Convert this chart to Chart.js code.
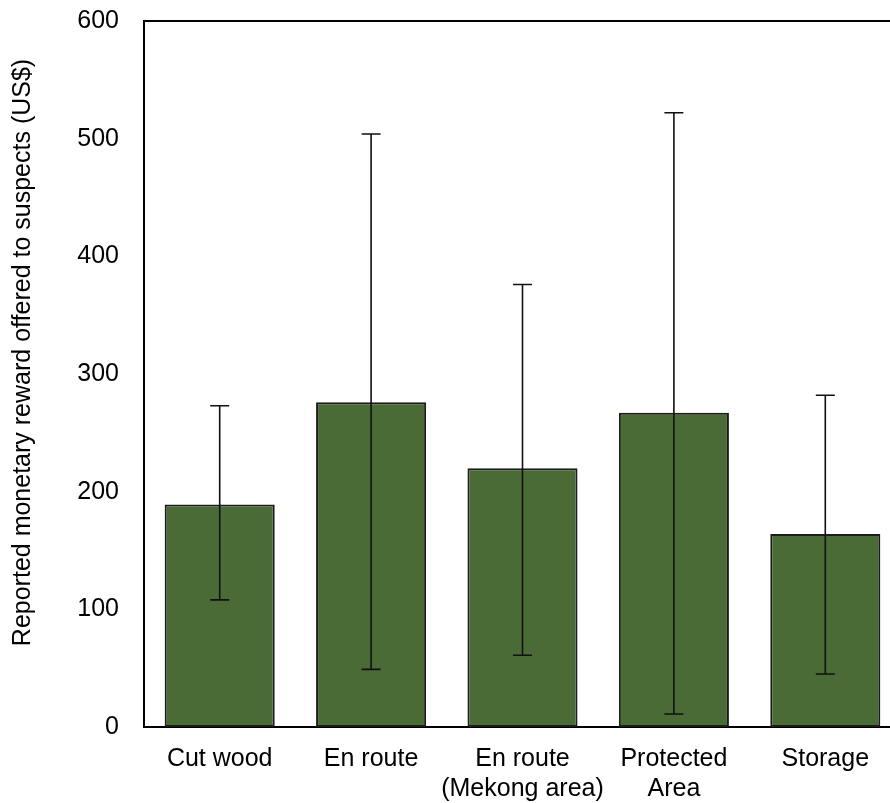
<!DOCTYPE html>
<html>
<head>
<meta charset="utf-8">
<script src="https://cdn.jsdelivr.net/npm/chart.js@4/dist/chart.umd.min.js"></script>
<style>
  html, body { margin: 0; padding: 0; background: #fff; overflow: hidden; }
  #wrap { width: 910px; height: 803px; }
</style>
</head>
<body>
<div id="wrap"><canvas id="c" width="910" height="803"></canvas></div>
<script>
const categories = [["Cut wood"], ["En route"], ["En route", "(Mekong area)"], ["Protected", "Area"], ["Storage"]];
const meanValues = [189, 276, 220, 267, 164];
const errLow = [108, 49, 61, 11, 45];
const errHigh = [273, 504, 376, 522, 282];
const yTicks = [0, 100, 200, 300, 400, 500, 600];
const yTitle = "Reported monetary reward offered to suspects (US$)";

const FONT = "'Liberation Sans', Arial, sans-serif";

const errorBars = {
  id: 'errorBars',
  afterDatasetsDraw(chart) {
    const ctx = chart.ctx;
    const y = chart.scales.y;
    ctx.save();
    ctx.strokeStyle = '#111';
    ctx.lineWidth = 1.6;
    for (let i = 0; i < meanValues.length; i++) {
      const px = chart.getDatasetMeta(0).data[i].x;
      const yl = y.getPixelForValue(errLow[i]);
      const yh = y.getPixelForValue(errHigh[i]);
      ctx.beginPath();
      ctx.moveTo(px, yl); ctx.lineTo(px, yh);
      ctx.moveTo(px - 9.5, yl); ctx.lineTo(px + 9.5, yl);
      ctx.moveTo(px - 9.5, yh); ctx.lineTo(px + 9.5, yh);
      ctx.stroke();
    }
    ctx.restore();
  }
};

const yTitlePlugin = {
  id: 'yTitlePlugin',
  afterDraw(chart) {
    const ctx = chart.ctx;
    ctx.save();
    ctx.translate(23, 352.5);
    ctx.rotate(-Math.PI / 2);
    ctx.font = "25px " + FONT;
    ctx.fillStyle = '#000';
    ctx.textAlign = 'center';
    ctx.textBaseline = 'middle';
    ctx.fillText(yTitle, 0, 0);
    ctx.restore();
  }
};

new Chart(document.getElementById('c'), {
  type: 'bar',
  data: {
    labels: categories,
    datasets: [{
      data: meanValues,
      backgroundColor: '#4a6b36',
      borderColor: '#1c1c1c',
      borderWidth: 2,
      borderSkipped: false,
      categoryPercentage: 1.0,
      barPercentage: 0.727
    }]
  },
  options: {
    responsive: false,
    animation: false,
    devicePixelRatio: 1,
    layout: { padding: { top: 21, right: 9, left: 0, bottom: 0 } },
    plugins: { legend: { display: false }, tooltip: { enabled: false }, title: { display: false } },
    scales: {
      x: {
        position: 'bottom',
        grid: { display: false },
        border: { display: true, color: '#000', width: 2 },
        ticks: { color: '#000', font: { family: FONT, size: 25, lineHeight: 1.2 }, padding: 9, maxRotation: 0, autoSkip: false },
        afterFit(s) { s.height = 76; s.paddingLeft = 0; s.paddingRight = 0; s.paddingTop = 0; s.paddingBottom = 0; }
      },
      x2: {
        position: 'top',
        type: 'category',
        labels: categories,
        grid: { display: false },
        border: { display: true, color: '#000', width: 2 },
        ticks: { display: false },
        afterFit(s) { s.height = 0; s.paddingLeft = 0; s.paddingRight = 0; s.paddingTop = 0; s.paddingBottom = 0; }
      },
      y: {
        min: 0, max: 600,
        grid: { display: false },
        border: { display: true, color: '#000', width: 2 },
        afterBuildTicks(s) { s.ticks = yTicks.map(v => ({ value: v })); },
        ticks: { color: '#000', font: { family: FONT, size: 25 }, padding: 17 },
        afterFit(s) { s.width = 144; s.paddingTop = 0; s.paddingBottom = 0; s.paddingLeft = 0; s.paddingRight = 0; }
      }
    }
  },
  plugins: [errorBars, yTitlePlugin]
});
</script>
</body>
</html>
